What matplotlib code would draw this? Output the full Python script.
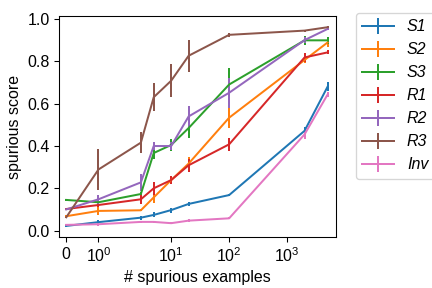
import matplotlib
matplotlib.use("Agg")
import matplotlib.pyplot as plt

plt.rcParams['font.family'] = ['Liberation Sans', 'DejaVu Sans']
plt.rcParams['font.size'] = 12

# number of spurious examples
n_spurious = [0, 1, 3, 5, 10, 20, 100, 2000, 5000]

labels = ['S1', 'S2', 'S3', 'R1', 'R2', 'R3', 'Inv']

S1 = [0.022, 0.040, 0.061, 0.074, 0.097, 0.126, 0.168, 0.472, 0.681]
S2 = [0.068, 0.093, 0.096, 0.157, 0.239, 0.317, 0.534, 0.807, 0.890]
S3 = [0.145, 0.134, 0.173, 0.367, 0.405, 0.485, 0.691, 0.900, 0.900]
R1 = [0.102, 0.121, 0.148, 0.200, 0.239, 0.309, 0.408, 0.819, 0.843]
R2 = [0.100, 0.148, 0.228, 0.400, 0.400, 0.540, 0.652, 0.901, 0.954]
R3 = [0.063, 0.289, 0.416, 0.631, 0.709, 0.827, 0.926, 0.946, 0.962]
Inv = [0.027, 0.030, 0.041, 0.041, 0.035, 0.047, 0.058, 0.455, 0.644]

S1_err = [0.005, 0.008, 0.010, 0.012, 0.012, 0.008, 0.005, 0.020, 0.020]
S2_err = [0.005, 0.020, 0.005, 0.025, 0.020, 0.030, 0.050, 0.015, 0.020]
S3_err = [0.005, 0.010, 0.010, 0.030, 0.030, 0.045, 0.080, 0.020, 0.015]
R1_err = [0.005, 0.010, 0.020, 0.030, 0.020, 0.030, 0.030, 0.020, 0.010]
R2_err = [0.005, 0.020, 0.040, 0.020, 0.020, 0.050, 0.070, 0.015, 0.005]
R3_err = [0.005, 0.097, 0.050, 0.067, 0.078, 0.076, 0.008, 0.005, 0.005]
Inv_err = [0.005, 0.008, 0.005, 0.005, 0.005, 0.008, 0.005, 0.020, 0.010]

series = [S1, S2, S3, R1, R2, R3, Inv]
errors = [S1_err, S2_err, S3_err, R1_err, R2_err, R3_err, Inv_err]

fig, ax = plt.subplots(figsize=(4.5, 3), dpi=96)
fig.subplots_adjust(left=0.137, right=0.778, top=0.944, bottom=0.177)

for lab, y, e in zip(labels, series, errors):
    ax.errorbar(n_spurious, y, yerr=e, label=lab)

ax.set_xscale('symlog')
ax.set_xlim(-0.22, 7000)
ax.set_yticks([0.0, 0.2, 0.4, 0.6, 0.8, 1.0])
ax.set_xlabel('# spurious examples')
ax.set_ylabel('spurious score')
ax.legend(loc='upper left', bbox_to_anchor=(1.071, 1.014), borderaxespad=0,
          prop={'style': 'italic', 'size': 12})

fig.savefig('out.png')
